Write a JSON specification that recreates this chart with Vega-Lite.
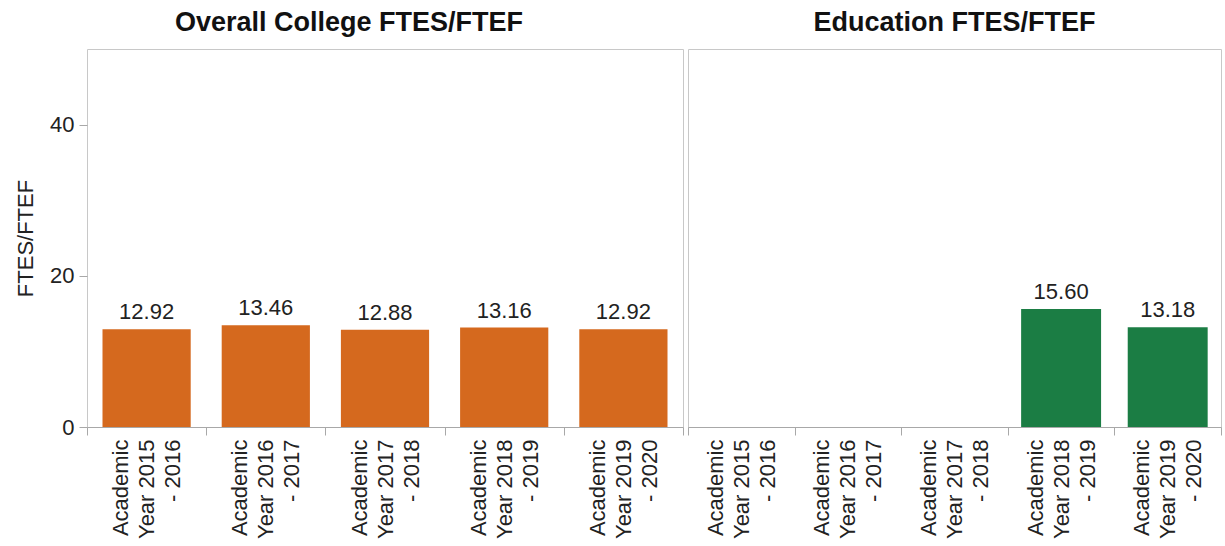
{
  "$schema": "https://vega.github.io/schema/vega-lite/v6.json",
  "padding": {"left": 14, "right": 1, "top": 8, "bottom": 0},
  "spacing": 5,
  "bounds": "flush",
  "background": "white",
  "config": {
    "font": "Liberation Sans",
    "view": {"stroke": "#c8c8c8", "strokeWidth": 1},
    "axis": {
      "labelFont": "Liberation Sans", "labelFontSize": 22, "labelColor": "#222222",
      "titleFont": "Liberation Sans", "titleFontSize": 22, "titleFontWeight": "normal", "titleColor": "#222222",
      "domainColor": "#a8a8a8", "tickColor": "#a8a8a8", "grid": false
    },
    "title": {"font": "Liberation Sans", "fontSize": 27, "fontWeight": "bold", "color": "#111111", "frame": "bounds", "anchor": "middle", "offset": 12}
  },
  "datasets": {
    "overall": [
      {"year": "Academic Year 2015 - 2016", "value": 12.92},
      {"year": "Academic Year 2016 - 2017", "value": 13.46},
      {"year": "Academic Year 2017 - 2018", "value": 12.88},
      {"year": "Academic Year 2018 - 2019", "value": 13.16},
      {"year": "Academic Year 2019 - 2020", "value": 12.92}
    ],
    "education": [
      {"year": "Academic Year 2018 - 2019", "value": 15.60},
      {"year": "Academic Year 2019 - 2020", "value": 13.18}
    ]
  },
  "hconcat": [
    {
      "title": "Overall College FTES/FTEF",
      "width": 596,
      "height": 378,
      "data": {"name": "overall"},
      "encoding": {
        "x": {
          "field": "year", "type": "nominal", "sort": null,
          "scale": {"domain": ["Academic Year 2015 - 2016", "Academic Year 2016 - 2017", "Academic Year 2017 - 2018", "Academic Year 2018 - 2019", "Academic Year 2019 - 2020"], "paddingInner": 0, "paddingOuter": 0},
          "axis": {"title": null, "labelAngle": -90, "labelAlign": "right", "labelBaseline": "middle", "labelLineHeight": 26,
                   "labelExpr": "[slice(datum.label,0,8), slice(datum.label,9,18), slice(datum.label,19)]",
                   "tickBand": "extent", "labelOffset": -26, "tickSize": 8, "labelPadding": 4}
        },
        "y": {
          "field": "value", "type": "quantitative",
          "scale": {"domain": [0, 50]},
          "axis": {"title": "FTES/FTEF", "values": [0, 20, 40], "tickSize": 8, "labelPadding": 5, "titlePadding": 12, "domain": false}
        }
      },
      "layer": [
        {"mark": {"type": "bar", "color": "#D5691E", "width": {"band": 0.74}}},
        {"mark": {"type": "text", "baseline": "alphabetic", "dy": -10, "fontSize": 22, "color": "#222222"},
         "encoding": {"text": {"field": "value", "type": "quantitative", "format": ".2f"}}}
      ]
    },
    {
      "title": {"text": "Education FTES/FTEF", "frame": "group"},
      "width": 533,
      "height": 378,
      "data": {"name": "education"},
      "encoding": {
        "x": {
          "field": "year", "type": "nominal", "sort": null,
          "scale": {"domain": ["Academic Year 2015 - 2016", "Academic Year 2016 - 2017", "Academic Year 2017 - 2018", "Academic Year 2018 - 2019", "Academic Year 2019 - 2020"], "paddingInner": 0, "paddingOuter": 0},
          "axis": {"title": null, "labelAngle": -90, "labelAlign": "right", "labelBaseline": "middle", "labelLineHeight": 26,
                   "labelExpr": "[slice(datum.label,0,8), slice(datum.label,9,18), slice(datum.label,19)]",
                   "tickBand": "extent", "labelOffset": -26, "tickSize": 8, "labelPadding": 4}
        },
        "y": {
          "field": "value", "type": "quantitative",
          "scale": {"domain": [0, 50]},
          "axis": null
        }
      },
      "layer": [
        {"mark": {"type": "bar", "color": "#1B7D44", "width": {"band": 0.75}}},
        {"mark": {"type": "text", "baseline": "alphabetic", "dy": -10, "fontSize": 22, "color": "#222222"},
         "encoding": {"text": {"field": "value", "type": "quantitative", "format": ".2f"}}}
      ]
    }
  ]
}
